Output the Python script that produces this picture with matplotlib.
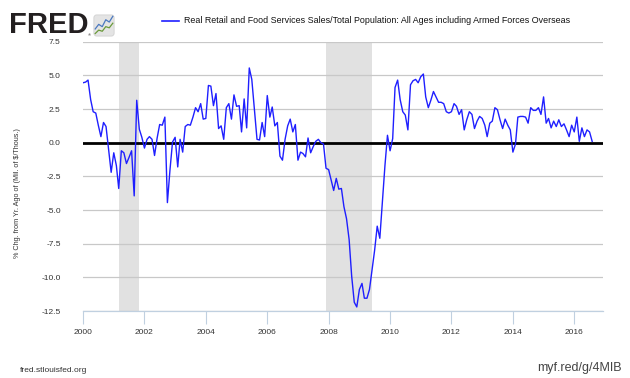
"""FRED-style chart: real retail & food services sales per capita, % chg from yr ago."""

import numpy as np
import pandas as pd
import matplotlib
matplotlib.use("Agg")
import matplotlib.pyplot as plt
import matplotlib.dates as mdates
from matplotlib.patches import FancyBboxPatch

plt.rcParams["font.family"] = ["Liberation Sans", "DejaVu Sans"]

START = "2000-01-01"

# monthly values, 2000-01 .. 2016-08
pct_chg = [
    4.45, 4.5, 4.65, 3.2, 2.3, 2.2, 1.3, 0.45, 1.5, 1.2, -0.5, -2.2,
    -0.75, -1.7, -3.4, -0.6, -0.75, -1.55, -1.1, -0.6, -3.95, 3.15, 1.0, 0.4,
    -0.4, 0.25, 0.45, 0.25, -0.95, 0.35, 1.35, 1.3, 1.9, -4.45, -2.0, 0.05,
    0.4, -1.8, 0.25, -0.7, 1.2, 1.35, 1.3, 1.9, 2.6, 2.3, 2.9, 1.75,
    1.8, 4.25, 4.2, 2.75, 3.65, 1.05, 1.25, 0.25, 2.6, 2.9, 1.75, 3.55,
    2.7, 2.75, 0.8, 3.25, 1.1, 5.55, 4.7, 2.45, 0.25, 0.2, 1.5, 0.45,
    3.5, 1.9, 2.65, 1.25, 1.5, -1.0, -1.3, 0.25, 1.25, 1.75, 0.8, 1.35,
    -1.3, -0.7, -0.8, -1.05, 0.35, -0.75, -0.3, 0.1, 0.25, 0.0, -0.1, -1.9,
    -2.0, -2.8, -3.55, -2.65, -3.45, -3.4, -4.75, -5.65, -7.2, -9.9, -11.85, -12.2,
    -10.9, -10.45, -11.55, -11.55, -10.9, -9.45, -8.0, -6.2, -7.1, -4.4, -1.7, 0.55,
    -0.6, 0.3, 4.1, 4.65, 3.2, 2.3, 2.05, 0.95, 4.3, 4.6, 4.7, 4.45,
    4.9, 5.1, 3.4, 2.6, 3.15, 3.8, 3.4, 3.0, 3.0, 2.9, 2.3, 2.2,
    2.3, 2.9, 2.7, 2.1, 2.45, 0.95, 1.7, 2.3, 2.1, 1.05, 1.6, 1.95,
    1.8, 1.3, 0.45, 1.45, 1.6, 2.6, 2.45, 1.7, 1.05, 1.75, 1.3, 0.95,
    -0.7, -0.1, 1.9, 1.95, 1.95, 1.9, 1.45, 2.6, 2.4, 2.4, 2.6, 2.1,
    3.4, 1.45, 1.8, 1.1, 1.6, 1.2, 1.7, 1.2, 1.4, 0.95, 0.45, 1.3,
    0.8, 1.9, 0.1, 1.1, 0.45, 0.95, 0.8, 0.1,
]

recessions = [("2001-03-01", "2001-11-01"), ("2007-12-01", "2009-06-01")]
y_ticks = [7.5, 5.0, 2.5, 0.0, -2.5, -5.0, -7.5, -10.0, -12.5]
x_tick_years = list(range(2000, 2017, 2))

series_label = ("Real Retail and Food Services Sales/Total Population: "
                "All Ages including Armed Forces Overseas")
y_label = "% Chg. from Yr. Ago of (Mil. of $/Thous.)"

# little logo chart
icon_blue = [0.35, 0.55, 0.45, 0.75, 0.65, 0.9]
icon_green = [0.15, 0.3, 0.25, 0.45, 0.4, 0.6]

dates = pd.date_range(START, periods=len(pct_chg), freq="MS")

fig = plt.figure(figsize=(6.3, 3.78), dpi=100)
ax = fig.add_axes([83 / 630, 1 - 311 / 378, 520 / 630, 269.3 / 378])

for a, b in recessions:
    ax.axvspan(pd.Timestamp(a), pd.Timestamp(b), color="#e1e1e1", lw=0, zorder=0)

ax.axhline(0, color="black", lw=2.0, zorder=2)
ax.plot(dates, pct_chg, color="#1f1fff", lw=1.0, zorder=3)

ax.set_ylim(-12.5, 7.5)
ax.set_xlim(pd.Timestamp("2000-01-01"), pd.Timestamp("2016-12-08"))
ax.set_yticks(y_ticks)
ax.set_yticklabels([f"{v:.1f}" for v in y_ticks], fontsize=6, color="#333333")
ax.set_xticks([pd.Timestamp(f"{y}-01-01") for y in x_tick_years])
ax.xaxis.set_major_formatter(mdates.DateFormatter("%Y"))
ax.tick_params(axis="x", length=9, width=0.8, color="#c0d0e0", labelsize=6,
               labelcolor="#333333", pad=4)
ax.tick_params(axis="y", length=0, pad=16)
ax.grid(axis="y", color="#c8c8c8", lw=0.9, zorder=1)
for s in ("top", "right", "left"):
    ax.spines[s].set_visible(False)
ax.spines["bottom"].set_color("#c0d0e0")
ax.spines["bottom"].set_linewidth(0.9)

fig.text(18 / 630, 1 - 193 / 378, y_label, rotation=90, ha="center",
         va="center", fontsize=5.2, color="#333333")

# legend
fig.add_artist(plt.Line2D([162 / 630, 179 / 630], [1 - 21 / 378] * 2,
                          color="#1f1fff", lw=1.2))
fig.text(184 / 630, 1 - 20.5 / 378, series_label, ha="left", va="center",
         fontsize=6.4, color="#111111")

# FRED logo
fig.text(9 / 630, 1 - 25 / 378, "FRED", ha="left", va="center", fontsize=21,
         fontweight="bold", color="#231f20")
fig.text(88 / 630, 1 - 36 / 378, "\u00ae", fontsize=3, color="#231f20")
icon = fig.add_axes([93 / 630, 1 - 37 / 378, 22 / 630, 23 / 378])
icon.add_patch(FancyBboxPatch((0.04, 0.04), 0.92, 0.92,
                              boxstyle="round,pad=0,rounding_size=0.12",
                              fc="#e4e4e4", ec="#cccccc", lw=0.5))
icon.plot(np.linspace(0.1, 0.9, len(icon_blue)), icon_blue, color="#4a78c0", lw=0.9)
icon.plot(np.linspace(0.1, 0.9, len(icon_green)), icon_green, color="#6a9a3a", lw=0.9)
icon.set_xlim(0, 1)
icon.set_ylim(0, 1)
icon.axis("off")

fig.text(20 / 630, 1 - 370 / 378, "fred.stlouisfed.org", ha="left",
         va="center", fontsize=6, color="#333333")
fig.text(622 / 630, 1 - 368 / 378, "myf.red/g/4MIB", ha="right",
         va="center", fontsize=9, color="#444444")

fig.savefig("out.png", dpi=100)
